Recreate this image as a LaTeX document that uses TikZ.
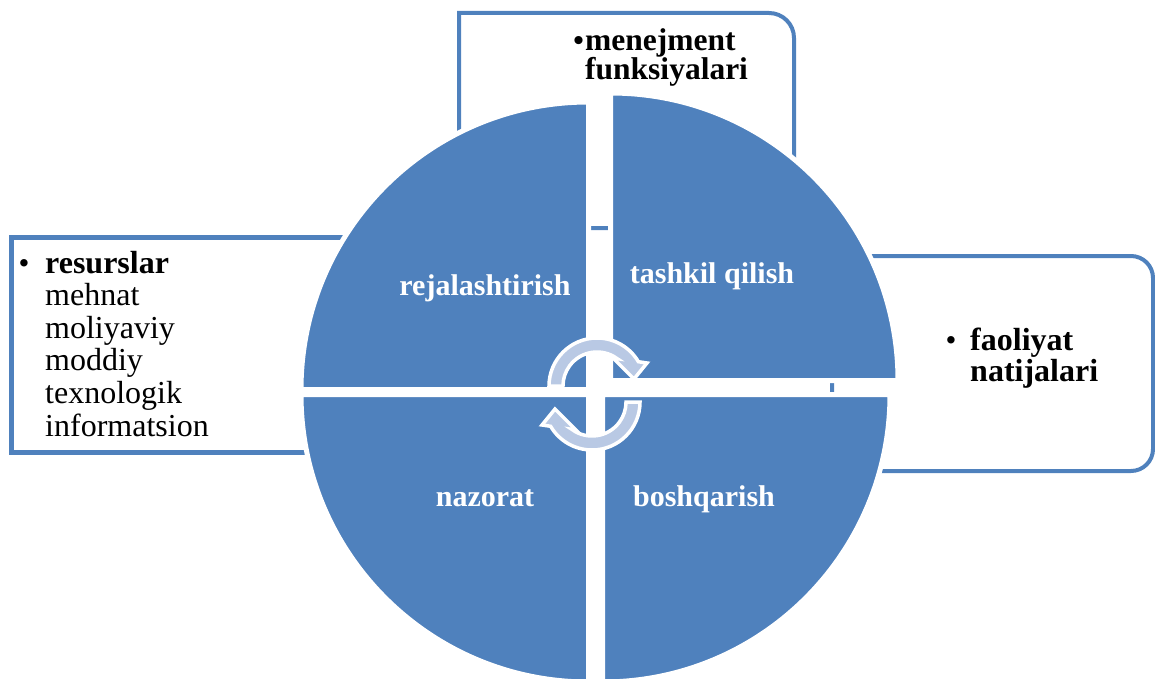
\documentclass[tikz,border=0pt]{standalone}
\usepackage{fontspec}
\setmainfont{Liberation Serif}
\definecolor{wheelblue}{HTML}{4F81BD}
\definecolor{cyclefill}{HTML}{B9C9E4}
\tikzset{
  boxline/.style={draw=wheelblue, line width=4pt},
  wedge/.style={fill=wheelblue, draw=white, line width=5pt, line join=miter},
  qlabel/.style={text=white, font=\fontsize{30}{32}\selectfont\bfseries, inner sep=0pt, anchor=base},
  boxtext/.style={font=\fontsize{32}{32.6}\selectfont, align=left, inner sep=0pt, anchor=base west},
  bulletmark/.style={font=\fontsize{31}{32.6}\selectfont, inner sep=0pt, anchor=base},
  cyclearrow/.style={fill=cyclefill, draw=white, line width=3.5pt, line join=miter},
  turnarrow/.pic={
    \path[cyclearrow] (-48,0) arc[start angle=180, end angle=30.4, radius=48]
      -- (50,23) -- (37,7) -- (16,28) -- (20.1,27.4)
      arc[start angle=53.7, end angle=180, radius=34] -- cycle;
  }
}
\begin{document}
\begin{tikzpicture}[x=1pt, y=1pt]
\useasboundingbox (0,0) rectangle (1155,-679);
\clip (0,0) rectangle (1155,-679);

% frames behind the wheel
\draw[boxline] (459,-228) -- (459,-13) [rounded corners=25pt] -- (794,-13) [sharp corners] -- (794,-228) -- cycle;
\draw[boxline, line width=5pt] (11,-237.5) rectangle (450,-452.5);
\draw[boxline, rounded corners=22pt] (832,-256) rectangle (1153,-471);

% the four quarters of the wheel
\path[wedge] (588.5,-389.5) -- (301,-389.5) arc[start angle=180, end angle=90, radius=287.5] -- cycle;
\path[wedge] (610.5,-380.5) -- (610.5,-93) arc[start angle=90, end angle=0, radius=287.5] -- cycle;
\path[wedge] (588.5,-394.5) -- (588.5,-682) arc[start angle=270, end angle=180, radius=287.5] -- cycle;
\path[wedge] (602.5,-394.5) -- (890,-394.5) arc[start angle=0, end angle=-90, radius=287.5] -- cycle;

% quarter labels
\node[qlabel] (plan) at (485,-295) {rejalashtirish};
\node[qlabel] (org) at (712,-283) {tashkil qilish};
\node[qlabel] (ctrl) at (485,-506) {nazorat};
\node[qlabel] (lead) at (704,-506) {boshqarish};

% cycle arrows in the middle
\pic (uparrow) at (597,-386) {turnarrow};
\pic[rotate=180] (downarrow) at (592,-402) {turnarrow};

% frame texts (multi-line nodes are anchored at the baseline of their last line)
\node[bulletmark, font=\fontsize{30}{32}\selectfont\bfseries] (b1) at (578.5,-50.7) {•};
\node[boxtext, font=\fontsize{31.5}{29.3}\selectfont\bfseries] (func) at (585,-80) {menejment\\funksiyalari};

\node[bulletmark] (b2) at (24,-273) {•};
\node[boxtext] (res) at (45,-436) {\textbf{resurslar}\\mehnat\\moliyaviy\\moddiy\\texnologik\\informatsion};

\node[bulletmark] (b3) at (951,-350) {•};
\node[boxtext, font=\fontsize{32}{31.7}\selectfont\bfseries] (out) at (970,-381.7) {faoliyat\\natijalari};
\end{tikzpicture}
\end{document}
